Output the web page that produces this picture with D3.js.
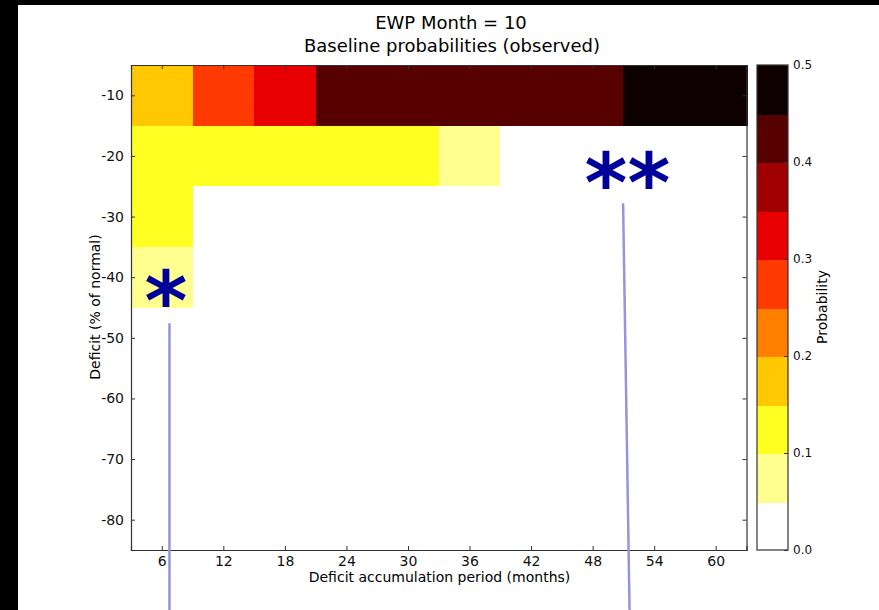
<!DOCTYPE html>
<html>
<head>
<meta charset="utf-8">
<script src="https://cdn.jsdelivr.net/npm/d3@7"></script>
<style>
  html, body { margin: 0; padding: 0; background: #000; }
  svg { display: block; font-family: "DejaVu Sans", sans-serif; }
</style>
</head>
<body>
<div id="chart"></div>
<script>
// Baseline probability grid, EWP month 10
const periods = [6, 12, 18, 24, 30, 36, 42, 48, 54, 60];      // months (columns)
const deficits = [-10, -20, -30, -40, -50, -60, -70, -80];    // % of normal (rows)
const probs = [
  [0.18, 0.27, 0.32, 0.42, 0.42, 0.42, 0.42, 0.42, 0.47, 0.47],
  [0.12, 0.12, 0.12, 0.12, 0.12, 0.07, 0.00, 0.00, 0.00, 0.00],
  [0.12, 0.00, 0.00, 0.00, 0.00, 0.00, 0.00, 0.00, 0.00, 0.00],
  [0.07, 0.00, 0.00, 0.00, 0.00, 0.00, 0.00, 0.00, 0.00, 0.00],
  [0.00, 0.00, 0.00, 0.00, 0.00, 0.00, 0.00, 0.00, 0.00, 0.00],
  [0.00, 0.00, 0.00, 0.00, 0.00, 0.00, 0.00, 0.00, 0.00, 0.00],
  [0.00, 0.00, 0.00, 0.00, 0.00, 0.00, 0.00, 0.00, 0.00, 0.00],
  [0.00, 0.00, 0.00, 0.00, 0.00, 0.00, 0.00, 0.00, 0.00, 0.00]
];
const levels = [0, 0.05, 0.1, 0.15, 0.2, 0.25, 0.3, 0.35, 0.4, 0.45, 0.5];
const cbTicks = [0, 0.1, 0.2, 0.3, 0.4, 0.5];
// discrete hot_r palette
const palette = ['#ffffff', '#ffff90', '#ffff22', '#ffc800', '#ff8000',
                 '#ff3a00', '#e80000', '#a00000', '#560000', '#0e0000'];

// hand-drawn marks on the figure (data units)
const stars = [{ text: '*', x: 6.4, y: -41.2 }, { text: '**', x: 51.4, y: -21.6 }];
const marks = [
  { x1: 6.75, y1: -47.6, x2: 6.75, y2: -95 },
  { x1: 50.97, y1: -27.8, x2: 51.6, y2: -95 }
];

const W = 879, H = 610;
const svg = d3.select('#chart').append('svg')
  .attr('width', W).attr('height', H);

svg.append('rect')
  .attr('x', 18).attr('y', 5).attr('width', W - 18).attr('height', H - 5)
  .attr('fill', '#fff');

const x = d3.scaleLinear().domain([3, 63]).range([131, 746.5]);
const y = d3.scaleLinear().domain([-5, -85]).range([65, 550]);
const color = d3.scaleThreshold().domain(levels.slice(1, -1)).range(palette);

// cells
const cells = [];
deficits.forEach((d, i) => periods.forEach((p, j) => cells.push({ p, d, v: probs[i][j] })));
svg.append('g').attr('shape-rendering', 'crispEdges').selectAll('rect')
  .data(cells)
  .join('rect')
  .attr('x', c => x(c.p - 3))
  .attr('y', c => y(c.d + 5))
  .attr('width', c => x(c.p + 3) - x(c.p - 3) + 1)
  .attr('height', c => y(c.d - 5) - y(c.d + 5) + 1)
  .attr('fill', c => color(c.v));

// axes (inward ticks on all sides, classic style)
const axisCol = '#333';
const fmt = d => String(d);
const gx = svg.append('g').attr('transform', `translate(0,${y(-85)})`)
  .call(d3.axisBottom(x).tickValues(periods).tickSize(-4).tickPadding(6).tickFormat(fmt));
const gxt = svg.append('g').attr('transform', `translate(0,${y(-5)})`)
  .call(d3.axisTop(x).tickValues(periods).tickSize(-4).tickFormat(''));
const gy = svg.append('g').attr('transform', `translate(${x(3)},0)`)
  .call(d3.axisLeft(y).tickValues(deficits).tickSize(-4).tickPadding(7).tickFormat(fmt));
const gyr = svg.append('g').attr('transform', `translate(${x(63)},0)`)
  .call(d3.axisRight(y).tickValues(deficits).tickSize(-4).tickFormat(''));
[gx, gxt, gy, gyr].forEach(g => {
  g.select('.domain').attr('stroke', axisCol).attr('stroke-width', 1.2);
  g.selectAll('.tick line').attr('stroke', axisCol);
  g.selectAll('.tick text').attr('fill', '#111').attr('font-size', 14)
    .attr('font-family', '"DejaVu Sans", sans-serif');
});

// colorbar
const cb = d3.scaleLinear().domain([0, 0.5]).range([550, 65]);
const cbX = 757, cbW = 31;
svg.append('g').attr('shape-rendering', 'crispEdges').selectAll('rect')
  .data(levels.slice(0, -1))
  .join('rect')
  .attr('x', cbX)
  .attr('y', (l, i) => cb(levels[i + 1]))
  .attr('width', cbW)
  .attr('height', (l, i) => cb(l) - cb(levels[i + 1]) + 1)
  .attr('fill', (l, i) => palette[i]);
svg.append('rect')
  .attr('x', cbX).attr('y', cb(0.5)).attr('width', cbW).attr('height', cb(0) - cb(0.5))
  .attr('fill', 'none').attr('stroke', axisCol).attr('stroke-width', 1.2);
const gcb = svg.append('g').attr('transform', `translate(${cbX + cbW},0)`)
  .call(d3.axisRight(cb).tickValues(cbTicks).tickSize(-4).tickPadding(5).tickFormat(d3.format('.1f')));
gcb.select('.domain').remove();
gcb.selectAll('.tick line').attr('stroke', axisCol);
gcb.selectAll('.tick text').attr('fill', '#111').attr('font-size', 12)
  .attr('font-family', '"DejaVu Sans", sans-serif');

// labels (suptitle centred on the figure)
svg.append('text').attr('x', 451).attr('y', 29).attr('text-anchor', 'middle')
  .attr('font-size', 18).attr('fill', '#000').text('EWP Month = 10');
svg.append('text').attr('x', 452).attr('y', 52).attr('text-anchor', 'middle')
  .attr('font-size', 18).attr('fill', '#000').text('Baseline probabilities (observed)');
svg.append('text').attr('x', 439.5).attr('y', 582).attr('text-anchor', 'middle')
  .attr('font-size', 14).attr('fill', '#000').text('Deficit accumulation period (months)');
svg.append('text').attr('transform', 'translate(100,307) rotate(-90)').attr('text-anchor', 'middle')
  .attr('font-size', 14).attr('fill', '#000').text('Deficit (% of normal)');
svg.append('text').attr('transform', 'translate(827,307) rotate(-90)').attr('text-anchor', 'middle')
  .attr('font-size', 14).attr('fill', '#000').text('Probability');

// annotation lines and asterisks
svg.append('g').selectAll('line')
  .data(marks)
  .join('line')
  .attr('x1', m => x(m.x1)).attr('y1', m => y(m.y1))
  .attr('x2', m => x(m.x2)).attr('y2', m => y(m.y2))
  .attr('stroke', '#9595d8').attr('stroke-width', 2.5);
svg.append('g').selectAll('text')
  .data(stars)
  .join('text')
  .attr('x', s => x(s.x)).attr('y', s => y(s.y))
  .attr('dy', 46)
  .attr('text-anchor', 'middle')
  .attr('font-size', 82).attr('font-weight', 'bold')
  .attr('fill', '#00009a')
  .text(s => s.text);
</script>
</body>
</html>
